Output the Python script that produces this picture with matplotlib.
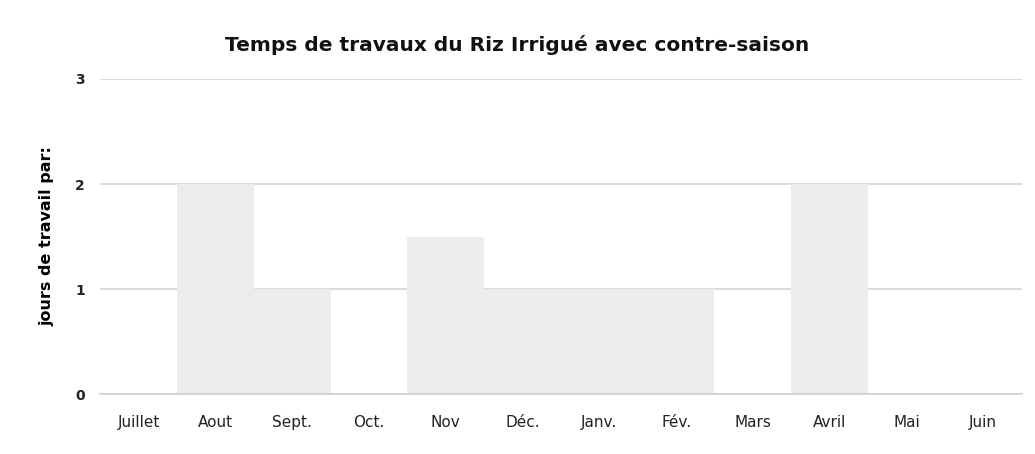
import matplotlib
matplotlib.use('Agg')
import matplotlib.pyplot as plt

# monthly working days
months = ['Juillet', 'Aout', 'Sept.', 'Oct.', 'Nov', 'Déc.', 'Janv.',
          'Fév.', 'Mars', 'Avril', 'Mai', 'Juin']
jours = [0, 2, 1, 0, 1.5, 1, 1, 1, 0, 2, 0, 0]
yticks = [0, 1, 2, 3]

plt.rcParams['font.family'] = ['DejaVu Sans']

fig = plt.figure(figsize=(10.35, 4.54), dpi=100)
ax = fig.add_axes([0.097, 0.132, 0.89, 0.694])

x = list(range(len(months)))
ax.bar(x, jours, width=1.0, color='#ececec', edgecolor='none', zorder=1)

ax.set_xlim(-0.5, len(months) - 0.5)
ax.set_ylim(0, 3)
ax.set_yticks(yticks)
ax.set_yticklabels([str(v) for v in yticks], fontweight='bold', fontsize=10, color='#222222')
ax.set_xticks(x)
ax.set_xticklabels(months, fontsize=11, color='#222222')
ax.tick_params(axis='both', length=0)
ax.tick_params(axis='x', pad=15)
ax.tick_params(axis='y', pad=11)

ax.grid(True, axis='y', color='#d4d4d4', linewidth=1.2, zorder=0)
ax.set_axisbelow(True)
for s in ['top', 'right', 'left']:
    ax.spines[s].set_visible(False)
ax.spines['bottom'].set_color('#cfcfcf')
ax.spines['bottom'].set_linewidth(1.2)

ax.set_ylabel("jours de travail par:", fontweight='bold', fontsize=11.5, labelpad=15)
fig.text(0.5, 0.9, "Temps de travaux du Riz Irrigué avec contre-saison",
         ha='center', va='center', fontsize=14.5, fontweight='bold', color='#111111')

fig.savefig('out.png', dpi=100)
